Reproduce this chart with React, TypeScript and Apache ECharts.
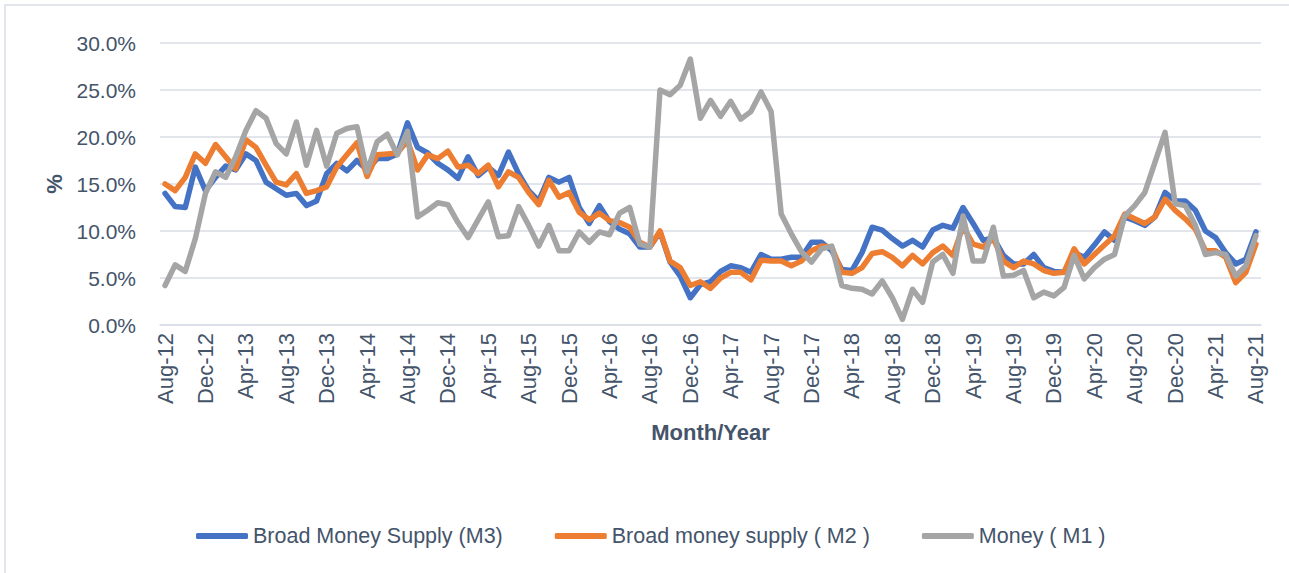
import React, { useEffect, useRef } from "react";
import * as echarts from "echarts";

const months = ["Jan", "Feb", "Mar", "Apr", "May", "Jun", "Jul", "Aug", "Sep", "Oct", "Nov", "Dec"];
// Aug-12 .. Aug-21 (109 months)
const categories: string[] = [];
for (let k = 0; k < 109; k++) {
  const m = (7 + k) % 12;
  const y = 12 + Math.floor((7 + k) / 12);
  categories.push(`${months[m]}-${y}`);
}

const m3 = [
  14.0, 12.6, 12.5, 16.8, 14.3, 15.7, 16.9, 16.5, 18.2, 17.5, 15.2, 14.5, 13.8, 14.0, 12.7, 13.2,
  16.1, 17.2, 16.4, 17.5, 16.5, 17.7, 17.7, 18.2, 21.5, 18.9, 18.3, 17.2, 16.5, 15.6, 17.9, 15.9,
  16.8, 15.9, 18.4, 16.1, 14.3, 13.2, 15.7, 15.2, 15.7, 12.5, 10.8, 12.7, 11.0, 10.2, 9.7, 8.3,
  8.3, 9.9, 6.7, 5.2, 2.9, 4.3, 4.6, 5.7, 6.3, 6.1, 5.6, 7.5, 7.0, 7.0, 7.2, 7.2,
  8.8, 8.8, 7.9, 5.9, 5.8, 7.7, 10.4, 10.1, 9.2, 8.4, 9.0, 8.3, 10.1, 10.6, 10.3, 12.5,
  10.8, 9.0, 9.3, 7.4, 6.5, 6.5, 7.5, 6.1, 5.7, 5.6, 7.7, 7.2, 8.5, 9.9, 9.0, 11.5,
  11.1, 10.6, 11.5, 14.1, 13.2, 13.2, 12.2, 10.0, 9.3, 7.7, 6.5, 7.0, 9.9,
];

const m2 = [
  15.0, 14.3, 15.7, 18.2, 17.2, 19.2, 17.9, 16.6, 19.7, 18.9, 17.0, 15.2, 14.9, 16.1, 14.0, 14.3,
  14.7, 16.8, 18.1, 19.4, 15.8, 18.1, 18.2, 18.3, 19.6, 16.5, 18.1, 17.7, 18.5, 16.8, 17.0, 16.1,
  17.0, 14.7, 16.3, 15.7, 14.1, 12.8, 15.4, 13.6, 14.1, 12.0, 11.2, 11.9, 11.1, 10.9, 10.4, 8.8,
  8.3, 10.0, 6.8, 6.1, 4.2, 4.6, 3.9, 5.0, 5.6, 5.6, 4.8, 6.9, 6.8, 6.8, 6.3, 6.8,
  7.9, 8.4, 8.3, 5.6, 5.5, 6.1, 7.6, 7.8, 7.2, 6.3, 7.4, 6.5, 7.7, 8.4, 7.4, 10.5,
  8.6, 8.3, 9.2, 6.8, 6.1, 6.8, 6.5, 5.8, 5.5, 5.6, 8.1, 6.5, 7.5, 8.5, 9.5, 11.8,
  11.3, 10.8, 11.5, 13.4, 12.2, 11.3, 10.2, 7.9, 7.9, 7.2, 4.5, 5.6, 8.6,
];

const m1 = [
  4.2, 6.4, 5.7, 9.2, 14.0, 16.3, 15.7, 17.9, 20.7, 22.8, 22.0, 19.3, 18.2, 21.6, 17.0, 20.7,
  16.9, 20.4, 20.9, 21.1, 16.3, 19.5, 20.3, 18.1, 20.6, 11.5, 12.2, 13.0, 12.8, 10.9, 9.3, 11.2,
  13.1, 9.4, 9.5, 12.6, 10.6, 8.4, 10.6, 7.9, 7.9, 9.9, 8.8, 9.9, 9.6, 11.9, 12.5, 8.6,
  8.3, 25.0, 24.5, 25.5, 28.3, 22.0, 23.9, 22.2, 23.8, 21.9, 22.7, 24.8, 22.7, 11.8, 9.7, 7.8,
  6.7, 8.1, 8.4, 4.2, 3.9, 3.8, 3.3, 4.7, 2.9, 0.6, 3.8, 2.4, 6.7, 7.5, 5.5, 11.6,
  6.8, 6.8, 10.4, 5.2, 5.3, 5.8, 2.9, 3.5, 3.1, 4.0, 7.4, 4.9, 6.1, 7.0, 7.5, 11.6,
  12.7, 14.1, 17.3, 20.5, 12.9, 12.7, 10.6, 7.5, 7.7, 7.5, 5.2, 6.3, 9.5,
];

const seriesNames = ["Broad Money Supply (M3)", "Broad money supply ( M2 )", "Money ( M1 )"];
const colors = ["#4472C4", "#ED7D31", "#A5A5A5"];

const FONT = "Liberation Sans";
const TEXT = "#44546A";

export default function App() {
  const ref = useRef<HTMLDivElement>(null);
  useEffect(() => {
    if (!ref.current) return;
    const chart = echarts.init(ref.current, undefined, { renderer: "svg" });
    const data = [m3, m2, m1];
    chart.setOption({
      animation: false,
      backgroundColor: "#ffffff",
      textStyle: { fontFamily: FONT, color: TEXT },
      graphic: [
        {
          type: "rect",
          shape: { x: 5, y: 5, width: 1300, height: 600 },
          style: { fill: "none", stroke: "#D9DEE6", lineWidth: 1.5 },
          silent: true,
        },
      ],
      grid: { left: 160, right: 28, top: 43, bottom: 248 },
      legend: {
        left: 191,
        top: 520,
        icon: "roundRect",
        itemWidth: 52,
        itemHeight: 6,
        itemGap: 52,
        textStyle: { fontFamily: FONT, fontSize: 21.5, color: TEXT },
        data: seriesNames,
      },
      xAxis: {
        type: "category",
        data: categories,
        boundaryGap: true,
        name: "Month/Year",
        nameLocation: "middle",
        nameGap: 96,
        nameTextStyle: { fontFamily: FONT, fontSize: 22, fontWeight: "bold", color: TEXT },
        axisLine: { lineStyle: { color: "#D9DEE6", width: 1.5 } },
        axisTick: { interval: 3, length: 7, lineStyle: { color: "#D9DEE6", width: 1.5 } },
        axisLabel: {
          interval: 3,
          rotate: 90,
          margin: 8,
          fontFamily: FONT,
          fontSize: 22,
          color: TEXT,
        },
      },
      yAxis: {
        type: "value",
        min: 0,
        max: 30,
        interval: 5,
        name: "%",
        nameLocation: "middle",
        nameRotate: 90,
        nameGap: 92,
        nameTextStyle: { fontFamily: FONT, fontSize: 22, fontWeight: "bold", color: TEXT },
        axisLine: { show: false },
        axisTick: { show: false },
        axisLabel: {
          margin: 24,
          fontFamily: FONT,
          fontSize: 21,
          color: TEXT,
          formatter: (v: number) => v.toFixed(1) + "%",
        },
        splitLine: { lineStyle: { color: "#D9DEE6", width: 1.5 } },
      },
      series: data.map((d, i) => ({
        name: seriesNames[i],
        type: "line",
        data: d,
        symbol: "none",
        smooth: false,
        color: colors[i],
        lineStyle: { color: colors[i], width: 5.5, join: "round", cap: "round" },
      })),
    });
    return () => chart.dispose();
  }, []);
  return (
    <div
      ref={ref}
      style={{ position: "absolute", left: 0, top: 0, width: 1289, height: 573 }}
    />
  );
}
